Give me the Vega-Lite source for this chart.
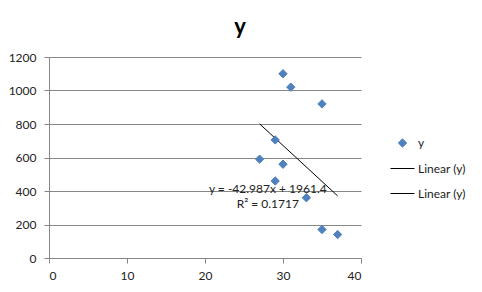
{
  "$schema": "https://vega.github.io/schema/vega-lite/v6.json",
  "autosize": "none",
  "width": 312,
  "height": 201,
  "padding": {"left": 49, "top": 57, "right": 121, "bottom": 34},
  "background": "white",
  "title": {"text": "y", "font": "Lato", "fontSize": 22, "fontWeight": "bold", "anchor": "middle", "frame": "group", "dx": 35, "offset": 12, "color": "#000"},
  "config": {
    "view": {"stroke": null},
    "font": "Lato",
    "axis": {"labelFont": "Lato", "labelFontSize": 12, "labelColor": "#222", "domainColor": "#868686", "tickColor": "#868686", "gridColor": "#868686", "tickSize": 5, "title": null, "labelOverlap": false}
  },
  "datasets": {
    "pts": [
      {"x": 30, "y": 1100, "series": "y"},
      {"x": 31, "y": 1020, "series": "y"},
      {"x": 35, "y": 920, "series": "y"},
      {"x": 29, "y": 705, "series": "y"},
      {"x": 27, "y": 590, "series": "y"},
      {"x": 30, "y": 560, "series": "y"},
      {"x": 29, "y": 460, "series": "y"},
      {"x": 33, "y": 360, "series": "y"},
      {"x": 35, "y": 170, "series": "y"},
      {"x": 37, "y": 140, "series": "y"}
    ],
    "trend": [
      {"x": 27, "y": 800.8},
      {"x": 37, "y": 370.9}
    ],
    "labels": [
      {"x": 28.05, "y": 413, "text": "y = -42.987x + 1961.4"},
      {"x": 28.05, "y": 323, "text": "R² = 0.1717"}
    ]
  },
  "encoding": {
    "x": {"field": "x", "type": "quantitative", "scale": {"domain": [0, 40]}, "axis": {"values": [0, 10, 20, 30, 40], "grid": false, "labelPadding": 7, "labelOverlap": false}},
    "y": {"field": "y", "type": "quantitative", "scale": {"domain": [0, 1200]}, "axis": {"values": [0, 200, 400, 600, 800, 1000, 1200], "format": "d", "grid": true, "labelPadding": 8, "labelOverlap": false}}
  },
  "layer": [
    {
      "data": {"name": "trend"},
      "mark": {"type": "line", "color": "#000", "strokeWidth": 1}
    },
    {
      "data": {"name": "pts"},
      "mark": {"type": "point", "filled": true, "opacity": 1, "strokeWidth": 1},
      "encoding": {
        "color": {
          "field": "series", "type": "nominal",
          "scale": {"domain": ["y", "Linear (y)", "Linear (y) "], "range": ["#4F81BD", "#000000", "#000000"]},
          "legend": {
            "title": null, "orient": "none", "legendX": 341, "legendY": 80,
            "labelFont": "Lato", "labelFontSize": 12, "labelColor": "#222", "labelOffset": 3, "rowPadding": 6,
            "symbolStrokeWidth": 1
          }
        },
        "stroke": {
          "field": "series", "type": "nominal",
          "scale": {"domain": ["y", "Linear (y)", "Linear (y) "], "range": ["#4F81BD", "#000000", "#000000"]}
        },
        "size": {
          "field": "series", "type": "nominal",
          "scale": {"type": "ordinal", "domain": ["y", "Linear (y)", "Linear (y) "], "range": [70, 576, 576]}
        },
        "shape": {
          "field": "series", "type": "nominal",
          "scale": {"domain": ["y", "Linear (y)", "Linear (y) "], "range": ["diamond", "stroke", "stroke"]}
        }
      }
    },
    {
      "data": {"name": "labels"},
      "mark": {"type": "text", "font": "Lato", "fontSize": 12, "color": "#222", "align": "center", "baseline": "middle"},
      "encoding": {
        "text": {"field": "text"}
      }
    }
  ]
}
